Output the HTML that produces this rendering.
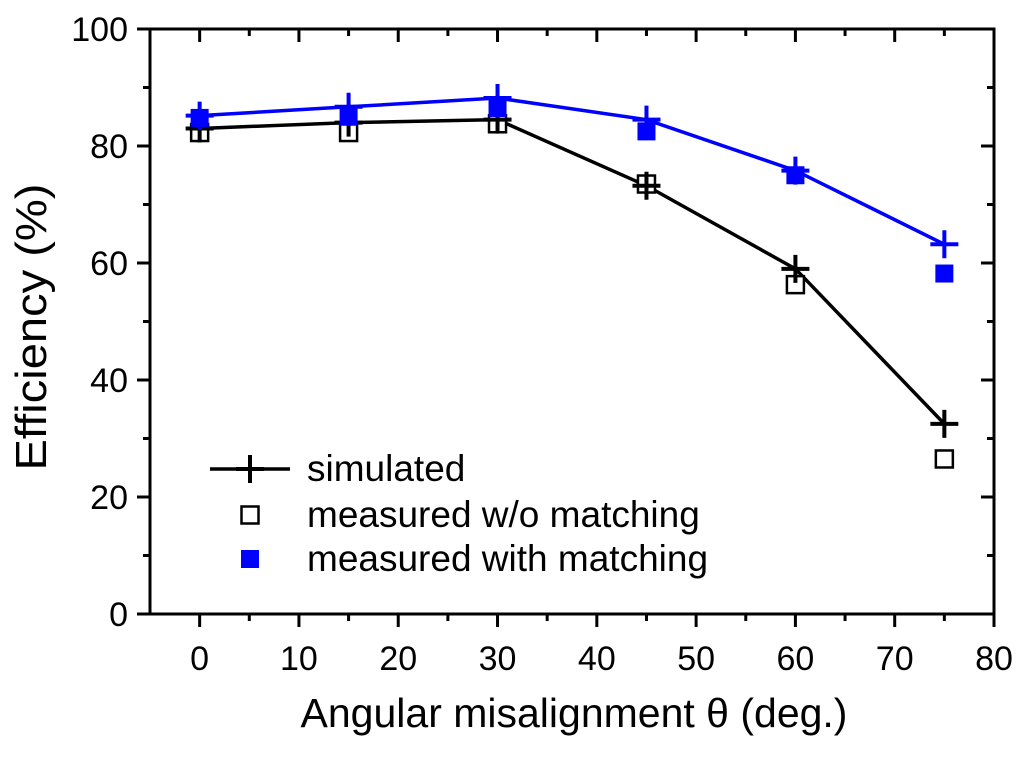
<!DOCTYPE html>
<html><head><meta charset="utf-8"><style>
html,body{margin:0;padding:0;background:#fff;}
svg text{font-family:"Liberation Sans",Arial,sans-serif;}
</style></head><body>
<svg id="chart" width="1024" height="752" viewBox="0 0 1024 752" xmlns="http://www.w3.org/2000/svg">
<g id="axes"></g><g id="marks"></g><g id="legend"></g>
</svg>
<script>
const angles=[0,15,30,45,60,75];
const simBlack=[83,84,84.5,73.2,59,32.5];
const measNoMatch=[82.3,82.3,83.8,73.5,56.3,26.5];
const simBlue=[85.2,86.7,88.2,84.5,75.8,63.2];
const measMatch=[84.8,85,86.5,82.5,75,58.2];
const xTicks=[0,10,20,30,40,50,60,70,80];
const yTicks=[0,20,40,60,80,100];
const NS="http://www.w3.org/2000/svg";
const L=150,R=994,T=29,B=614,xmin=-5,xmax=80,ymin=0,ymax=100;
const X=v=>L+(v-xmin)/(xmax-xmin)*(R-L);
const Y=v=>B-(v-ymin)/(ymax-ymin)*(B-T);
function mk(tag,attrs,parent,txt){const e=document.createElementNS(NS,tag);for(const k in attrs)e.setAttribute(k,attrs[k]);if(txt!==undefined)e.textContent=txt;parent.appendChild(e);return e;}
const ax=document.getElementById('axes'),mg=document.getElementById('marks'),lg=document.getElementById('legend');
let f=mk('rect',{x:L,y:T,width:R-L,height:B-T,fill:'none',stroke:'#000','stroke-width':3},ax);

for(let v=0;v<=80;v+=5){const maj=v%10===0;const x=X(v);
 mk('line',{x1:x,y1:B,x2:x,y2:B+(maj?13:7),stroke:'#000','stroke-width':3},ax);
 mk('line',{x1:x,y1:T,x2:x,y2:T+(maj?13:7),stroke:'#000','stroke-width':3},ax);}
for(let v=0;v<=100;v+=10){const maj=v%20===0;const y=Y(v);
 mk('line',{x1:L,y1:y,x2:L-(maj?13:7),y2:y,stroke:'#000','stroke-width':3},ax);
 mk('line',{x1:R,y1:y,x2:R-(maj?13:7),y2:y,stroke:'#000','stroke-width':3},ax);}
xTicks.forEach(v=>{const t=mk('text',{x:X(v),y:B+56,'text-anchor':'middle','font-size':34},ax,String(v));
 });
yTicks.forEach(v=>{const t=mk('text',{x:L-22,y:Y(v)+12,'text-anchor':'end','font-size':34},ax,String(v));
 });
let xt=mk('text',{x:574,y:727,'text-anchor':'middle','font-size':41},ax,'Angular misalignment θ (deg.)');

let yt=mk('text',{x:0,y:0,'text-anchor':'middle','font-size':44,'textLength':287,'lengthAdjust':'spacingAndGlyphs',transform:`translate(46,327) rotate(-90)`},ax,'Efficiency (%)');

function line(vals,color,name){const p=mk('polyline',{points:angles.map((a,i)=>X(a)+','+Y(vals[i])).join(' '),fill:'none',stroke:color,'stroke-width':3.5},mg);
 }
function plus(x,y,c,g){mk('path',{d:`M${x-14},${y}H${x+14}M${x},${y-14}V${y+14}`,stroke:c,'stroke-width':4},g);}
function sq(x,y,c,filled,g){mk('rect',{x:x-8.5,y:y-8.5,width:17,height:17,fill:filled?c:'#fff',stroke:c,'stroke-width':filled?1:2.5},g);}
line(simBlack,'#000','simulated-line');
line(simBlue,'#0000ff','simulated-matched-line');
angles.forEach((a,i)=>{
 let g=mk('g',{},mg);sq(X(a),Y(measNoMatch[i]),'#000',false,g);
 g=mk('g',{},mg);plus(X(a),Y(simBlack[i]),'#000',g);
 g=mk('g',{},mg);sq(X(a),Y(measMatch[i]),'#0000ff',true,g);
 g=mk('g',{},mg);plus(X(a),Y(simBlue[i]),'#0000ff',g);
});
const entries=[['simulated',469],['measured w/o matching',515],['measured with matching',559]];
entries.forEach((e,i)=>{const g=mk('g',{},lg);
 const y=e[1];
 if(i===0){mk('line',{x1:210,y1:y,x2:290,y2:y,stroke:'#000','stroke-width':3.5},g);plus(250,y,'#000',g);}
 else if(i===1)sq(250,y,'#000',false,g); else sq(250,y,'#0000ff',true,g);
 mk('text',{x:307,y:y+12,'font-size':37},g,e[0]);});
</script>
</body></html>
